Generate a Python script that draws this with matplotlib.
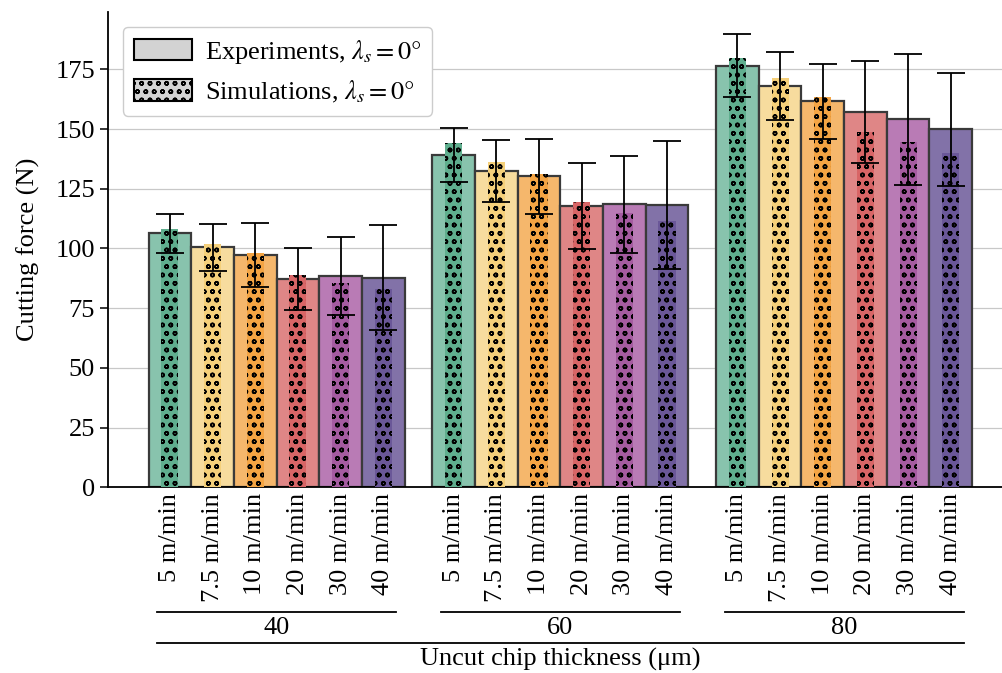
import numpy as np
import matplotlib
matplotlib.use("Agg")
import matplotlib.pyplot as plt
from matplotlib.patches import Patch
from matplotlib.transforms import blended_transform_factory

plt.rcParams["font.family"] = ["Liberation Serif", "DejaVu Serif"]
plt.rcParams["mathtext.fontset"] = "stix"
plt.rcParams["font.size"] = 19
plt.rcParams["hatch.linewidth"] = 1.1

# Data
thickness = ["40", "60", "80"]
speeds = ["5 m/min", "7.5 m/min", "10 m/min", "20 m/min", "30 m/min", "40 m/min"]

exp_40 = [106.3, 100.4, 97.3, 87.3, 88.6, 87.8]
exp_60 = [139.2, 132.4, 130.2, 117.8, 118.5, 118.3]
exp_80 = [176.5, 167.9, 161.6, 157.2, 154.0, 149.9]

err_40 = [8.3, 9.7, 13.4, 12.9, 16.4, 22.0]
err_60 = [11.4, 13.1, 15.8, 18.1, 20.4, 26.8]
err_80 = [13.2, 14.3, 15.6, 21.3, 27.3, 23.6]

sim_40 = [108.3, 102.0, 97.9, 88.9, 85.4, 83.2]
sim_60 = [144.0, 136.3, 131.0, 119.3, 114.7, 111.3]
sim_80 = [179.9, 171.5, 163.5, 148.9, 144.4, 140.1]

exp_colors = ["#88c3ad", "#f7dc9e", "#f5b76c", "#df8686", "#b97bb5", "#8272a8"]
sim_colors = ["#5fae8e", "#f5d07a", "#f4a443", "#d86566", "#a55ba0", "#6a5798"]

exp_all = [exp_40, exp_60, exp_80]
err_all = [err_40, err_60, err_80]
sim_all = [sim_40, sim_60, sim_80]

fig = plt.figure(figsize=(10.02, 6.73), dpi=100)
ax = fig.add_axes([0.1078, 0.2759, 0.8922, 0.7063])

group_step = 6.65
ticks = []
ticklabels = []
for g in range(len(thickness)):
    x = g * group_step + np.arange(len(speeds))
    ax.bar(x, exp_all[g], width=1.0, color=exp_colors, edgecolor="#3a3a3a",
           linewidth=1.6, zorder=2)
    ax.bar(x, sim_all[g], width=0.4, color=sim_colors, edgecolor="black",
           linewidth=0, hatch="oo", zorder=3)
    ax.errorbar(x, exp_all[g], yerr=err_all[g], fmt="none", ecolor="black",
                elinewidth=1.3, capsize=10, capthick=1.3, zorder=4)
    ticks.extend(x)
    ticklabels.extend(speeds)

ax.set_xticks(ticks)
ax.set_xticklabels(ticklabels, rotation=90, va="top", ha="center")
ax.tick_params(axis="x", length=0, pad=4)
ax.tick_params(axis="y", length=6, width=1.1)
ax.set_xlim(-1.45, 19.5)
ax.set_ylim(0, 199)
ax.set_yticks(np.arange(0, 176, 25))
ax.set_ylabel("Cutting force (N)", labelpad=11)

ax.grid(axis="y", color="#c8c8c8", linewidth=0.9)
ax.set_axisbelow(True)
for side in ["top", "right"]:
    ax.spines[side].set_visible(False)
for side in ["left", "bottom"]:
    ax.spines[side].set_linewidth(1.3)

# group annotations below tick labels
trans = blended_transform_factory(ax.transData, ax.transAxes)
for g, label in enumerate(thickness):
    x0 = g * group_step - 0.3
    x1 = g * group_step + 5.3
    ax.plot([x0, x1], [-0.262, -0.262], color="black", linewidth=1.3,
            transform=trans, clip_on=False)
    ax.text(g * group_step + 2.5, -0.296, label, transform=trans,
            ha="center", va="center")
ax.plot([-0.3, 2 * group_step + 5.3], [-0.327, -0.327], color="black",
        linewidth=1.3, transform=trans, clip_on=False)
ax.text((2 * group_step + 5) / 2, -0.362, "Uncut chip thickness (μm)",
        transform=trans, ha="center", va="center")

handles = [
    Patch(facecolor="#d3d3d3", edgecolor="black", linewidth=1.5,
          label=r"Experiments, $\lambda_s = 0°$"),
    Patch(facecolor="#d3d3d3", edgecolor="black", linewidth=1.5, hatch="oo",
          label=r"Simulations, $\lambda_s = 0°$"),
]
ax.legend(handles=handles, loc="upper left", bbox_to_anchor=(0.008, 0.985),
          fancybox=True, framealpha=1, edgecolor="#cccccc",
          handlelength=2.2, handleheight=0.9, handletextpad=0.5,
          borderaxespad=0.3)

fig.savefig("out.png", dpi=100)
